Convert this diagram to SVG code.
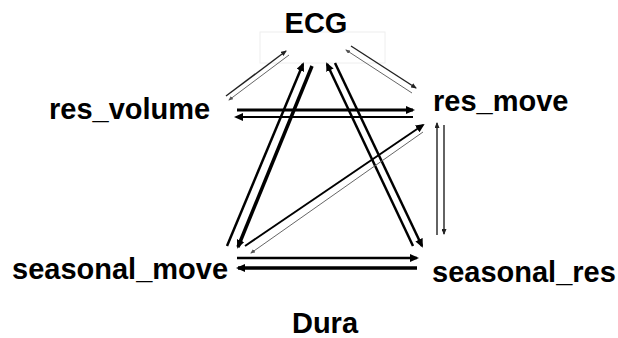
<svg xmlns="http://www.w3.org/2000/svg" width="618" height="338" viewBox="0 0 618 338">
<style>
.lbl{font-family:"Liberation Sans",Arial,sans-serif;font-weight:bold;font-size:29px;fill:#000}
.e{fill:none;stroke:#000;stroke-linecap:butt}
.thin{stroke:#222;stroke-width:1.4}
.gray{stroke:#666;stroke-width:1}
</style>
<defs>
<marker id="ab" markerUnits="userSpaceOnUse" markerWidth="9" markerHeight="8" viewBox="0 0 9 8" refX="7" refY="4" orient="auto"><path d="M0,0 L9,4 L0,8 z" fill="#000"/></marker>
<marker id="as" markerUnits="userSpaceOnUse" markerWidth="6" markerHeight="5" viewBox="0 0 6 5" refX="5" refY="2.5" orient="auto"><path d="M0,0 L6,2.5 L0,5 z" fill="#222"/></marker>
<marker id="ag" markerUnits="userSpaceOnUse" markerWidth="5" markerHeight="4" viewBox="0 0 5 4" refX="4" refY="2" orient="auto"><path d="M0,0 L5,2 L0,4 z" fill="#555"/></marker>
</defs>
<rect x="260" y="32" width="125" height="31" fill="none" stroke="#eeeeee" stroke-width="1"/>
<g id="connectors">
<line class="e thin" x1="226" y1="96" x2="286" y2="51" marker-end="url(#as)"/>
<line class="e gray" x1="289" y1="55" x2="229" y2="100" marker-end="url(#ag)"/>
<line class="e thin" x1="351" y1="46" x2="416" y2="88" marker-end="url(#as)"/>
<line class="e gray" x1="412" y1="93" x2="346" y2="50" marker-end="url(#ag)"/>
<line class="e" stroke-width="3" x1="237" y1="110" x2="413" y2="110" marker-end="url(#ab)"/>
<line class="e" stroke-width="2" x1="413" y1="117" x2="236" y2="117" marker-end="url(#ab)"/>
<line class="e" stroke-width="2.5" x1="227" y1="246" x2="303" y2="64" marker-end="url(#ab)"/>
<line class="e" stroke-width="3.5" x1="312" y1="66" x2="238" y2="247" marker-end="url(#ab)"/>
<line class="e" stroke-width="2.5" x1="413" y1="246" x2="327" y2="64" marker-end="url(#ab)"/>
<line class="e" stroke-width="2.5" x1="335" y1="63" x2="422" y2="246" marker-end="url(#ab)"/>
<line class="e" stroke-width="2" x1="245" y1="246" x2="423" y2="125" marker-end="url(#ab)"/>
<line class="e gray" x1="423" y1="132" x2="251" y2="253" marker-end="url(#ag)"/>
<line class="e thin" x1="437" y1="235" x2="437" y2="123" marker-end="url(#as)"/>
<line class="e thin" x1="444" y1="125" x2="444" y2="234" marker-end="url(#as)"/>
<line class="e" stroke-width="2.5" x1="237" y1="258" x2="417" y2="258" marker-end="url(#ab)"/>
<line class="e" stroke-width="3.5" x1="417" y1="268" x2="238" y2="268" marker-end="url(#ab)"/>
</g>
<g id="ECG"><text class="lbl" x="316" y="33" text-anchor="middle">ECG</text></g>
<g id="res_volume"><text class="lbl" x="49" y="119">res_volume</text></g>
<g id="res_move"><text class="lbl" x="433" y="111">res_move</text></g>
<g id="seasonal_move"><text class="lbl" x="12" y="279">seasonal_move</text></g>
<g id="seasonal_res"><text class="lbl" x="432" y="282">seasonal_res</text></g>
<g id="Dura"><text class="lbl" x="325" y="333" text-anchor="middle">Dura</text></g>
</svg>
